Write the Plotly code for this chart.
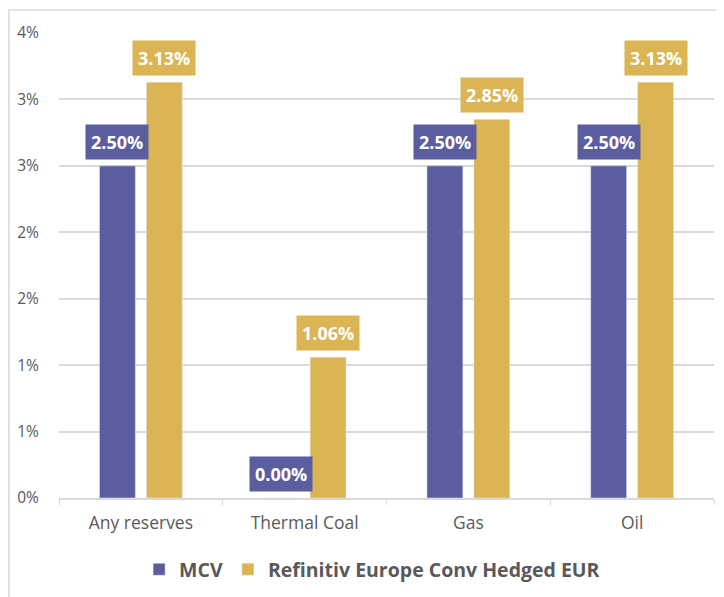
import plotly.graph_objects as go

categories = ["Any reserves", "Thermal Coal", "Gas", "Oil"]
mcv = [2.50, 0.00, 2.50, 2.50]
refinitiv = [3.13, 1.06, 2.85, 3.13]
tick_vals = [0, 0.5, 1.0, 1.5, 2.0, 2.5, 3.0, 3.5]
tick_text = ["0%", "1%", "1%", "2%", "2%", "3%", "3%", "4%"]

purple = "#5b5e9e"
gold = "#dbb453"
grey = "#595959"
font = "Open Sans"

fig = go.Figure()
fig.add_trace(go.Bar(x=categories, y=mcv, name="<b>MCV</b>", marker_color=purple))
fig.add_trace(go.Bar(x=categories, y=refinitiv, name="<b>Refinitiv Europe Conv Hedged EUR</b>",
                     marker_color=gold))

# data labels in coloured boxes above each bar
for vals, col, shift in [(mcv, purple, -23.5), (refinitiv, gold, 23.5)]:
    for c, v in zip(categories, vals):
        fig.add_annotation(x=c, y=v, text=f"<b>{v:.2f}%</b>", showarrow=False,
                           xshift=shift, yshift=6, yanchor="bottom",
                           bgcolor=col, borderpad=5,
                           font=dict(family=font, size=18, color="white"))

# chart area border
fig.add_shape(type="rect", xref="paper", yref="paper",
              x0=-0.0765, x1=1.1, y0=-0.3, y1=1.0495,
              line=dict(color="#d9d9d9", width=1.5), layer="below")

fig.update_layout(
    width=716, height=589,
    margin=dict(l=51, r=10, t=25, b=99, autoexpand=False),
    paper_bgcolor="white", plot_bgcolor="white",
    barmode="group", bargap=0.427, bargroupgap=0.234,
    font=dict(family=font, color=grey, size=15),
    showlegend=True,
    legend=dict(orientation="h", x=0.478, xanchor="center", y=-0.112, yanchor="top",
                font=dict(family=font, size=19.5, color=grey), itemwidth=30,
                tracegroupgap=0),
)
fig.update_xaxes(showline=True, linecolor="#d9d9d9", linewidth=1.5, automargin=False,
                 ticks="outside", tickson="boundaries", ticklen=5, tickcolor="#d9d9d9",
                 ticklabelstandoff=8,
                 tickfont=dict(size=17.5, color=grey))
fig.update_yaxes(range=[0, 3.5], tickvals=tick_vals, ticktext=tick_text, automargin=False,
                 showgrid=True, gridcolor="#d9d9d9", gridwidth=1.5, zeroline=False,
                 ticks="outside", ticklen=16, tickcolor="rgba(0,0,0,0)",
                 tickfont=dict(size=15.5, color=grey))

fig.write_html("out.html")
